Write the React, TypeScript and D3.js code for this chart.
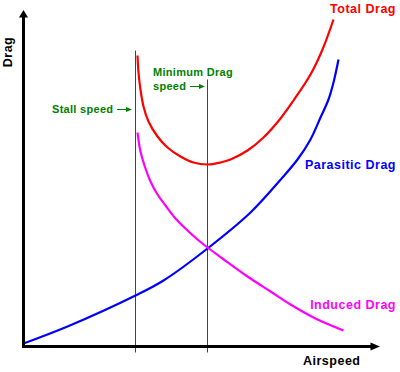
import * as d3 from "d3";

// values (arbitrary units: airspeed 0..357, drag 0..337)
const parasiticSpeed = [0, 44, 112, 140, 184, 227, 259, 274, 287, 297, 305, 310, 315];
const parasiticDrag = [3, 20, 51, 66, 98, 134, 169, 187, 207, 229, 247, 264, 287];

const inducedSpeed = [114, 117, 122, 127, 134, 142, 152, 163, 174, 184, 199, 224, 247, 267, 292, 320];
const inducedDrag = [214, 195, 178, 165, 152, 141, 128, 117, 107, 99, 88, 70, 55, 42, 28, 16];

const totalSpeed = [114, 115, 117, 120, 125, 134, 144, 157, 170, 184, 197, 207, 224, 240, 257, 270, 287, 299, 310];
const totalDrag = [291, 274, 257, 240, 225, 210, 199, 190, 184, 182, 184, 187, 196, 209, 228, 246, 272, 297, 327];

const stallSpeed = 112;
const minDragSpeed = 184;

const W = 400;
const H = 372;
const font = "'Liberation Sans', Arial, sans-serif";
const green = "#008000";

export default function App() {
  const x = d3.scaleLinear().domain([0, 357]).range([23.5, 380.5]);
  const y = d3.scaleLinear().domain([0, 337]).range([346.5, 9.5]);

  const line = d3
    .line<[number, number]>()
    .x((d) => x(d[0]))
    .y((d) => y(d[1]))
    .curve(d3.curveCatmullRom.alpha(0.5));

  const zip = (a: number[], b: number[]) => a.map((v, i) => [v, b[i]] as [number, number]);

  const x0 = x(0);
  const y0 = y(0);

  return (
    <svg
      width={W}
      height={H}
      style={{ position: "absolute", left: 0, top: 0, background: "#fff" }}
      fontFamily={font}
      fontWeight="bold"
      fontSize={12.5}
      letterSpacing={0.5}
    >
      {/* guide lines */}
      <line x1={x(stallSpeed)} x2={x(stallSpeed)} y1={y(296)} y2={y(-6)} stroke="#0b6b0b" strokeWidth={1} />
      <line x1={x(minDragSpeed)} x2={x(minDragSpeed)} y1={y(267)} y2={y(-6)} stroke="#0b6b0b" strokeWidth={1} />

      {/* curves */}
      <path d={line(zip(parasiticSpeed, parasiticDrag)) ?? ""} fill="none" stroke="#0000ff" strokeWidth={2.2} />
      <path d={line(zip(inducedSpeed, inducedDrag)) ?? ""} fill="none" stroke="#ff00ff" strokeWidth={2.2} />
      <path d={line(zip(totalSpeed, totalDrag)) ?? ""} fill="none" stroke="#ff0000" strokeWidth={2.2} />

      {/* axes */}
      <line x1={x0} x2={x0} y1={y0 + 1.5} y2={y(330)} stroke="#000" strokeWidth={3} />
      <path d={`M${x0},${y(337) + 0.5} L${x0 - 4.5},${y(329)} L${x0 + 4.5},${y(329)} Z`} fill="#000" />
      <line x1={x0 - 1.5} x2={x(350)} y1={y0} y2={y0} stroke="#000" strokeWidth={3} />
      <path d={`M${x(357) - 0.5},${y0} L${x(347)},${y0 - 4} L${x(347)},${y0 + 4} Z`} fill="#000" />

      {/* axis titles */}
      <text x={303} y={365} fill="#000">Airspeed</text>
      <text transform="translate(12,52) rotate(-90)" textAnchor="middle" fill="#000">Drag</text>

      {/* series labels */}
      <text x={396} y={13} textAnchor="end" fill="#ff0000">Total Drag</text>
      <text x={396} y={169} textAnchor="end" fill="#0000ff">Parasitic Drag</text>
      <text x={396} y={309} textAnchor="end" fill="#ff00ff">Induced Drag</text>

      {/* annotations */}
      <g fill={green} fontSize={11} letterSpacing={0.3}>
        <text x={153} y={76}>Minimum Drag</text>
        <text x={153} y={90}>speed</text>
        <text x={52} y={113}>Stall speed</text>
      </g>
      <g stroke={green} fill={green}>
        <line x1={190} x2={203} y1={86.5} y2={86.5} strokeWidth={1} />
        <path d="M205,86.5 L199,84 L199,89 Z" stroke="none" />
        <line x1={117} x2={130} y1={109.5} y2={109.5} strokeWidth={1} />
        <path d="M132,109.5 L126,107 L126,112 Z" stroke="none" />
      </g>
    </svg>
  );
}
